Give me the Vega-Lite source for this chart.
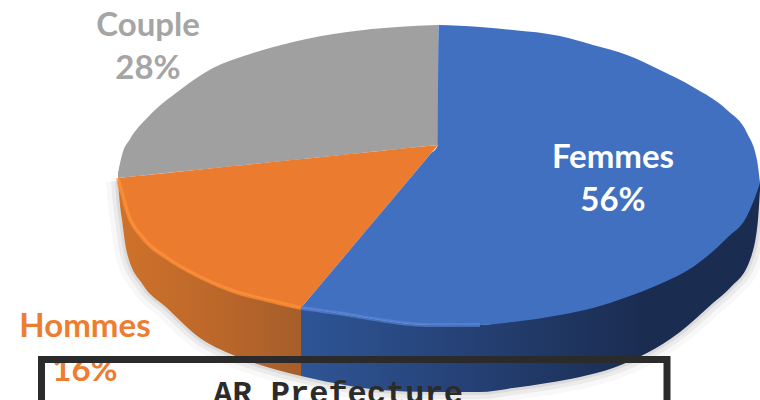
{"$schema":"https://vega.github.io/schema/vega-lite/v6.json","width":760,"height":400,"autosize":{"type":"none"},"padding":0,"background":"white","config":{"view":{"stroke":null},"axis":{"disable":true}},
"datasets":{
"top":[
{"segment":"Couple","x":-320,"top":28,"bottom":33},{"segment":"Couple","x":-316,"top":10,"bottom":32.6},{"segment":"Couple","x":-308,"top":-6,"bottom":31.8},{"segment":"Couple","x":-291,"top":-27,"bottom":30},{"segment":"Couple","x":-258,"top":-55,"bottom":26.6},{"segment":"Couple","x":-225,"top":-77,"bottom":23.2},{"segment":"Couple","x":-191,"top":-90,"bottom":19.7},{"segment":"Couple","x":-145,"top":-103,"bottom":15},{"segment":"Couple","x":-91,"top":-113,"bottom":9.4},{"segment":"Couple","x":-41,"top":-118,"bottom":4.2},{"segment":"Couple","x":0,"top":-120,"bottom":0},
{"segment":"Hommes","x":-320,"top":33,"bottom":33},{"segment":"Hommes","x":-318,"top":32.8,"bottom":42},{"segment":"Hommes","x":-311,"top":32,"bottom":66},{"segment":"Hommes","x":-295,"top":30.4,"bottom":93},{"segment":"Hommes","x":-271,"top":27.9,"bottom":113},{"segment":"Hommes","x":-238,"top":24.5,"bottom":132},{"segment":"Hommes","x":-205,"top":21.1,"bottom":146},{"segment":"Hommes","x":-171,"top":17.6,"bottom":155},{"segment":"Hommes","x":-137,"top":14.1,"bottom":163},{"segment":"Hommes","x":-135,"top":13.9,"bottom":160.6},{"segment":"Hommes","x":-88,"top":9,"bottom":104.7},{"segment":"Hommes","x":-58,"top":6,"bottom":69},{"segment":"Hommes","x":-8,"top":0.8,"bottom":9.5},{"segment":"Hommes","x":0,"top":0,"bottom":0},
{"segment":"Femmes","x":-137,"top":163,"bottom":163},{"segment":"Femmes","x":-135,"top":160.6,"bottom":163.3},{"segment":"Femmes","x":-88,"top":104.7,"bottom":170},{"segment":"Femmes","x":-58,"top":69,"bottom":175},{"segment":"Femmes","x":-8,"top":9.5,"bottom":180},{"segment":"Femmes","x":0,"top":0,"bottom":180},{"segment":"Femmes","x":0.5,"top":-120,"bottom":180},{"segment":"Femmes","x":42,"top":-118,"bottom":180},{"segment":"Femmes","x":75,"top":-115,"bottom":177},{"segment":"Femmes","x":122,"top":-109,"bottom":170},{"segment":"Femmes","x":155,"top":-100,"bottom":163},{"segment":"Femmes","x":189,"top":-90,"bottom":152},{"segment":"Femmes","x":222,"top":-75,"bottom":139},{"segment":"Femmes","x":255,"top":-58,"bottom":122},{"segment":"Femmes","x":289,"top":-35,"bottom":93},{"segment":"Femmes","x":309,"top":-12,"bottom":71},{"segment":"Femmes","x":319,"top":15,"bottom":47},{"segment":"Femmes","x":322,"top":38,"bottom":38}],
"wall":[
{"segment":"Hommes","x":-320,"rim":33,"base":36},{"segment":"Hommes","x":-318,"rim":42,"base":60},{"segment":"Hommes","x":-316,"rim":48,"base":75},{"segment":"Hommes","x":-311,"rim":66,"base":108},{"segment":"Hommes","x":-295,"rim":93,"base":140},{"segment":"Hommes","x":-271,"rim":113,"base":163},{"segment":"Hommes","x":-238,"rim":132,"base":193},{"segment":"Hommes","x":-205,"rim":146,"base":210},{"segment":"Hommes","x":-171,"rim":155,"base":222},{"segment":"Hommes","x":-137,"rim":163,"base":231},
{"segment":"Femmes","x":-137,"rim":163,"base":231},{"segment":"Femmes","x":-88,"rim":170,"base":241},{"segment":"Femmes","x":-58,"rim":175,"base":245},{"segment":"Femmes","x":-8,"rim":180,"base":247},{"segment":"Femmes","x":42,"rim":180,"base":247},{"segment":"Femmes","x":75,"rim":175,"base":243},{"segment":"Femmes","x":109,"rim":168,"base":238},{"segment":"Femmes","x":142,"rim":160,"base":232},{"segment":"Femmes","x":175,"rim":148,"base":223},{"segment":"Femmes","x":209,"rim":135,"base":208},{"segment":"Femmes","x":242,"rim":118,"base":187},{"segment":"Femmes","x":275,"rim":95,"base":158},{"segment":"Femmes","x":292,"rim":78,"base":143},{"segment":"Femmes","x":312,"rim":55,"base":115},{"segment":"Femmes","x":320,"rim":40,"base":75},{"segment":"Femmes","x":322,"rim":36,"base":45}],
"labels":[
{"segment":"Femmes","share":56,"text":"Femmes","x":175,"y":23},{"segment":"Femmes","share":56,"text":"56%","x":175,"y":66},
{"segment":"Couple","share":28,"text":"Couple","x":-290,"y":-109},{"segment":"Couple","share":28,"text":"28%","x":-290,"y":-66},
{"segment":"Hommes","share":16,"text":"Hommes","x":-353,"y":192},{"segment":"Hommes","share":16,"text":"16%","x":-353,"y":236}],
"box":[{"name":"AR Prefecture","x":-396.5,"x2":229,"y":214.5,"y2":275,"tx":-100,"ty":258}]},
"encoding":{},
"layer":[
{"data":{"name":"wall"},"mark":{"type":"line","interpolate":"monotone","stroke":"#808080","strokeWidth":24,"opacity":0.06},"encoding":{"x":{"field":"x","type":"quantitative","scale":{"domain":[-438,322],"nice":false,"zero":false},"axis":null},"y":{"field":"base","type":"quantitative","scale":{"domain":[255,-145],"nice":false,"zero":false},"axis":null}}},
{"data":{"name":"wall"},"mark":{"type":"line","interpolate":"monotone","stroke":"#808080","strokeWidth":14,"opacity":0.1},"encoding":{"x":{"field":"x","type":"quantitative"},"y":{"field":"base","type":"quantitative"}}},
{"data":{"name":"wall"},"mark":{"type":"line","interpolate":"monotone","stroke":"#808080","strokeWidth":6,"opacity":0.14},"encoding":{"x":{"field":"x","type":"quantitative"},"y":{"field":"base","type":"quantitative"}}},
{"data":{"name":"wall"},"transform":[{"filter":"datum.segment==='Hommes'"}],"mark":{"type":"area","orient":"vertical","interpolate":"monotone","color":{"gradient":"linear","x1":0,"y1":0,"x2":1,"y2":0,"stops":[{"offset":0,"color":"#cf722a"},{"offset":0.5,"color":"#bd682a"},{"offset":1,"color":"#a65e2a"}]}},"encoding":{"x":{"field":"x","type":"quantitative"},"y":{"field":"rim","type":"quantitative"},"y2":{"field":"base"}}},
{"data":{"name":"wall"},"transform":[{"filter":"datum.segment==='Femmes'"}],"mark":{"type":"area","orient":"vertical","interpolate":"monotone","color":{"gradient":"linear","x1":0,"y1":0,"x2":1,"y2":0,"stops":[{"offset":0,"color":"#2f5596"},{"offset":0.4,"color":"#243f72"},{"offset":0.75,"color":"#1a2c50"},{"offset":1,"color":"#1a2c50"}]}},"encoding":{"x":{"field":"x","type":"quantitative"},"y":{"field":"rim","type":"quantitative"},"y2":{"field":"base"}}},
{"data":{"name":"top"},"mark":{"type":"area","orient":"vertical","interpolate":"monotone"},"encoding":{"x":{"field":"x","type":"quantitative"},"y":{"field":"top","type":"quantitative"},"y2":{"field":"bottom"},"color":{"field":"segment","type":"nominal","legend":null,"scale":{"domain":["Femmes","Hommes","Couple"],"range":["#4270c0","#eb7c2f","#a0a0a0"]}}}},
{"data":{"name":"wall"},"transform":[{"filter":"datum.segment==='Hommes'"}],"mark":{"type":"line","interpolate":"monotone","stroke":"#ff8f35","strokeWidth":4,"opacity":0.75},"encoding":{"x":{"field":"x","type":"quantitative"},"y":{"field":"rim","type":"quantitative"}}},
{"data":{"name":"wall"},"transform":[{"filter":"datum.segment==='Femmes' && datum.x<60"}],"mark":{"type":"line","interpolate":"monotone","stroke":"#5b87d8","strokeWidth":4,"opacity":0.65},"encoding":{"x":{"field":"x","type":"quantitative"},"y":{"field":"rim","type":"quantitative"}}},
{"data":{"name":"labels"},"mark":{"type":"text","font":"Lato","fontWeight":"bold","fontSize":33,"align":"center","baseline":"alphabetic"},"encoding":{"x":{"field":"x","type":"quantitative"},"y":{"field":"y","type":"quantitative"},"text":{"field":"text"},"color":{"field":"segment","type":"nominal","legend":null,"scale":{"domain":["Femmes","Hommes","Couple"],"range":["#ffffff","#ed7d31","#a5a5a5"]}}}},
{"data":{"name":"box"},"mark":{"type":"rect","filled":false,"stroke":"#2b2b2b","strokeWidth":7,"clip":true},"encoding":{"x":{"field":"x","type":"quantitative"},"x2":{"field":"x2"},"y":{"field":"y","type":"quantitative"},"y2":{"field":"y2"}}},
{"data":{"name":"box"},"mark":{"type":"text","font":"Liberation Mono","fontWeight":"bold","fontSize":32,"align":"center","baseline":"alphabetic","color":"#2b2b2b"},"encoding":{"x":{"field":"tx","type":"quantitative"},"y":{"field":"ty","type":"quantitative"},"text":{"field":"name"}}}
],
"resolve":{"scale":{"color":"independent"}}}
